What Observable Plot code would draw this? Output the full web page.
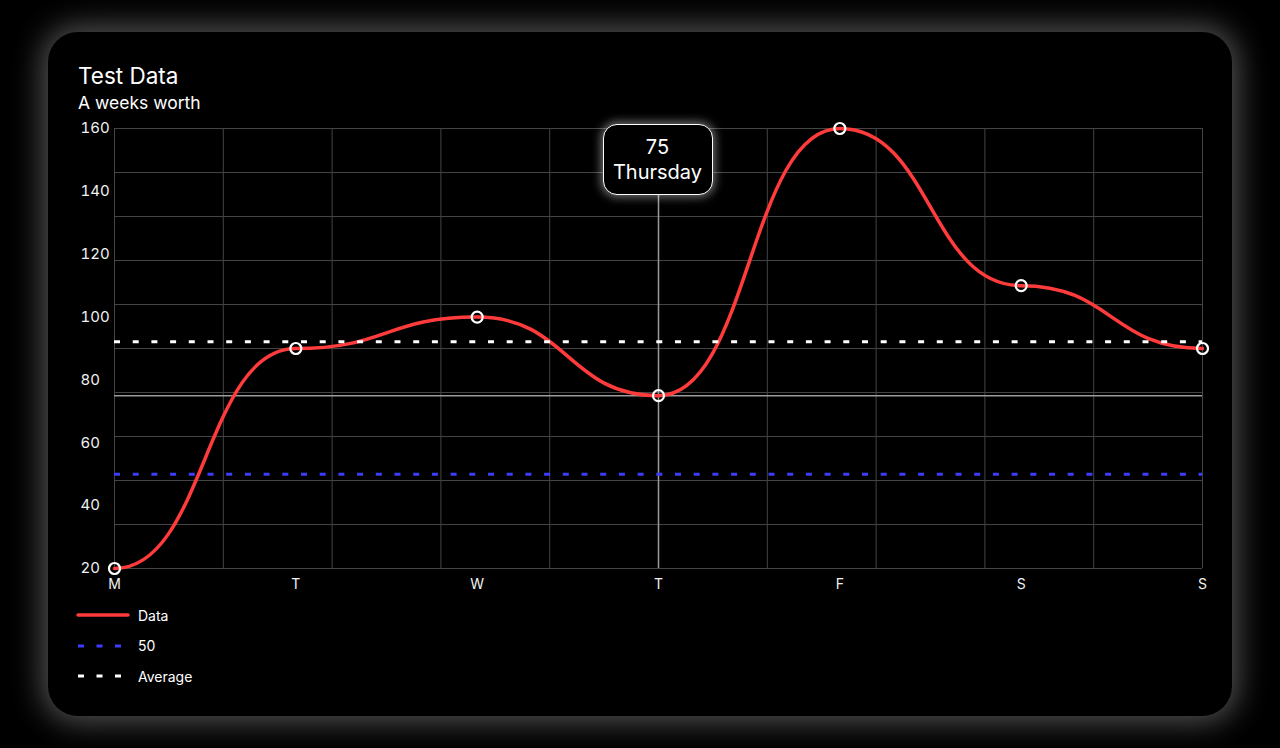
<!DOCTYPE html>
<html>
<head>
<meta charset="utf-8">
<script src="https://cdn.jsdelivr.net/npm/d3@7"></script>
<script src="https://cdn.jsdelivr.net/npm/@observablehq/plot@0.6"></script>
<style>
  html, body { margin:0; padding:0; background:#000; width:1280px; height:748px; overflow:hidden; font-family: Inter, "Noto Sans", sans-serif; color:#fff; }
  #page { position:relative; width:1280px; height:748px; background:#000; }
  #card { position:absolute; left:48px; top:32px; width:1184px; height:684px; border-radius:30px; background:#000;
          box-shadow: 0 0 30px 6px rgba(255,255,255,0.32); }
  #title { position:absolute; left:78px; top:62px; font-size:22.5px; line-height:28px; font-weight:400; }
  #subtitle { position:absolute; left:78px; top:92px; font-size:17.5px; line-height:22px; font-weight:400; }
  #chart { position:absolute; left:60px; top:110px; }
  #tooltip { position:absolute; top:124px; width:108px; height:69px; border:1.5px solid #fff; border-radius:14px; background:#000;
             box-shadow: 0 0 10px 2px rgba(255,255,255,0.45); text-align:center; font-size:20px; line-height:25px; box-sizing:content-box; }
  #tooltip .v { margin-top:10px; }
  #legend { position:absolute; left:76px; top:600px; font-size:14px; }
  #legend .row { height:30.5px; display:flex; align-items:center; }
  #legend svg { width:56px; height:10px; margin-right:6px; }
</style>
</head>
<body>
<div id="page">
  <div id="card"></div>
  <div id="title">Test Data</div>
  <div id="subtitle">A weeks worth</div>
  <div id="chart"></div>
  <div id="legend"></div>
</div>
<script>
// ---- data ----
const days = ["M", "T", "W", "T", "F", "S", "S"];
const dayNames = ["Monday", "Tuesday", "Wednesday", "Thursday", "Friday", "Saturday", "Sunday"];
const values = [20, 90, 100, 75, 160, 110, 90];
const referenceValue = 50;
const selectedIndex = 3;
const yTickLabels = [20, 40, 60, 80, 100, 120, 140, 160];
const yGridLines = [20, 34, 48, 62, 76, 90, 104, 118, 132, 146, 160];
const xGridLines = [0, 0.6, 1.2, 1.8, 2.4, 3, 3.6, 4.2, 4.8, 5.4, 6];
const legendItems = ["Data", "50", "Average"];

const data = values.map((v, i) => ({ i, day: days[i], value: v }));
const average = d3.mean(values);

const RED = "#ff3b3b", BLUE = "#3d3dff", WHITE = "#ffffff";
const DASH = "6,12.7";

const chart = Plot.plot({
  width: 1160,
  height: 500,
  marginLeft: 54,
  marginRight: 18,
  marginTop: 18,
  marginBottom: 42,
  style: { background: "transparent", color: "#fff", fontFamily: "Inter, sans-serif", fontSize: "15px", overflow: "visible" },
  x: { domain: [0, 6] },
  y: { domain: [20, 160] },
  marks: [
    Plot.ruleY(yGridLines, { stroke: "#444", strokeWidth: 1 }),
    Plot.ruleX(xGridLines, { stroke: "#444", strokeWidth: 1 }),
    Plot.ruleY([values[selectedIndex]], { stroke: "#9a9a9a", strokeWidth: 1.5 }),
    Plot.ruleX([selectedIndex], { stroke: "#9a9a9a", strokeWidth: 1.5 }),
    Plot.line(data, { x: "i", y: "value", curve: "bump-x", stroke: RED, strokeWidth: 3.5 }),
    Plot.ruleY([referenceValue], { stroke: BLUE, strokeWidth: 3, strokeDasharray: DASH }),
    Plot.ruleY([average], { stroke: WHITE, strokeWidth: 3, strokeDasharray: DASH }),
    Plot.dot(data, { x: "i", y: "value", r: 5.5, stroke: WHITE, strokeWidth: 2.2, fill: "none" }),
    Plot.axisY({ ticks: yTickLabels, tickSize: 0, tickPadding: 34, textAnchor: "start", fontSize: 15, fill: "#f2f2f2", label: null }),
    Plot.axisX({ ticks: data.map(d => d.i), tickFormat: i => days[i], tickSize: 0, tickPadding: 11, fontSize: 14, fill: "#f2f2f2", label: null })
  ]
});
document.getElementById("chart").appendChild(chart);

// tooltip positioned with the chart's x scale
const xs = chart.scale("x");
const tip = document.createElement("div");
tip.id = "tooltip";
tip.innerHTML = `<div class="v">${values[selectedIndex]}</div><div>${dayNames[selectedIndex]}</div>`;
const cx = 60 + xs.apply(selectedIndex);
tip.style.left = (cx - 55.5) + "px";
document.getElementById("page").appendChild(tip);

// legend
const legendStyles = [
  { stroke: RED, dash: null, cap: "round" },
  { stroke: BLUE, dash: "6,12.5", cap: "butt" },
  { stroke: WHITE, dash: "6,12.5", cap: "butt" }
];
const legend = document.getElementById("legend");
legendItems.forEach((label, k) => {
  const st = legendStyles[k];
  const row = document.createElement("div");
  row.className = "row";
  row.innerHTML = `<svg viewBox="0 0 56 10"><line x1="2" x2="52" y1="5" y2="5" stroke="${st.stroke}" stroke-width="${st.dash ? 3 : 3.5}" stroke-linecap="${st.cap}" ${st.dash ? `stroke-dasharray="${st.dash}"` : ""}/></svg><span>${label}</span>`;
  legend.appendChild(row);
});
</script>
</body>
</html>
